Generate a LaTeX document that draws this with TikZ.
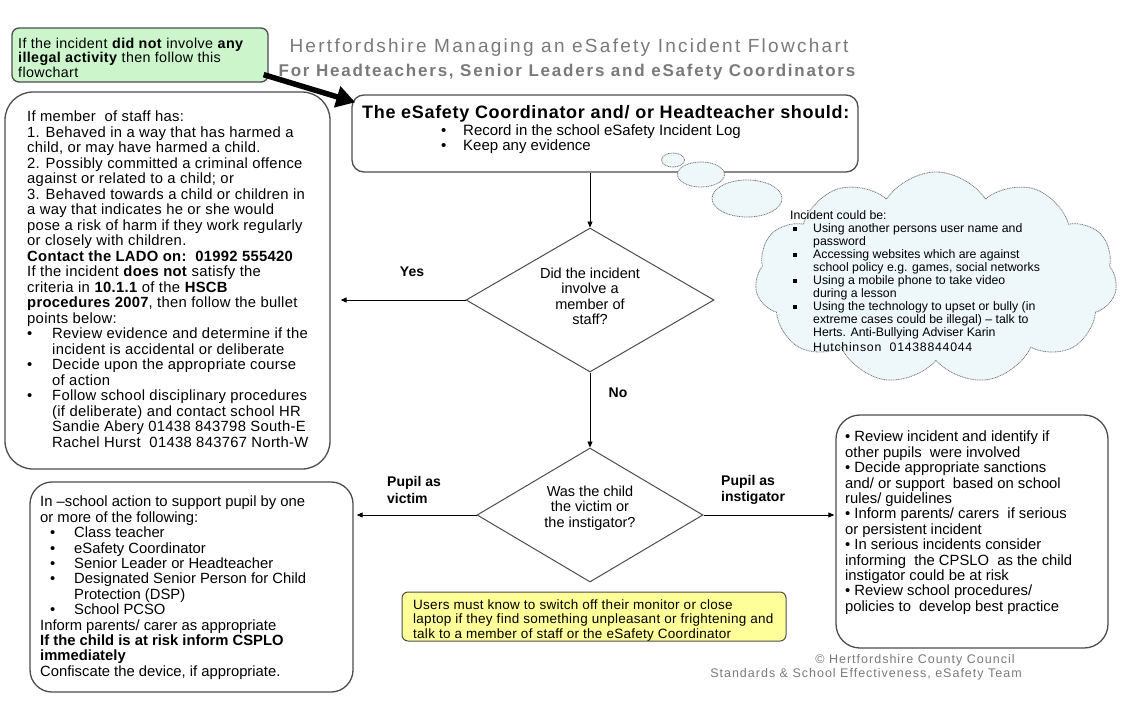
\documentclass[tikz,border=0pt]{standalone}
\usepackage{fontspec}
\setmainfont{Liberation Sans}
\usepackage{graphicx}
\usetikzlibrary{shapes.geometric,shapes.symbols,arrows.meta}
\definecolor{boxline}{HTML}{4D4D4D}
\definecolor{greenfill}{HTML}{CCF5CC}
\definecolor{yellowfill}{HTML}{FFFF99}
\definecolor{cloudfill}{HTML}{EEF8FB}
\definecolor{titlegray}{HTML}{7A7A7A}
\definecolor{cloudline}{HTML}{7A7A7A}
\newcommand\bulA[1]{\makebox[#1][l]{\textbullet}}
\newcommand\sqbul{\makebox[23pt][l]{\hspace{3pt}\rule[1.5pt]{3.5pt}{3.5pt}}}
\begin{document}
\begin{tikzpicture}[x=1pt,y=-1pt,
  box/.style={draw=boxline, line width=1.3pt, fill=white, rounded corners=#1, inner sep=0pt},
  box/.default=12pt,
  body/.style={inner sep=0pt, anchor=north west, align=left, font=\fontsize{14.8}{15.5}\selectfont},
  cloudtxt/.style={inner sep=0pt, anchor=north west, align=left, font=\fontsize{12.3}{13}\selectfont},
  question/.style={diamond, draw=boxline, line width=1pt, fill=white, inner sep=0pt},
  qtext/.style={inner sep=0pt, align=center, font=\fontsize{14.5}{15.5}\selectfont},
  lbl/.style={inner sep=0pt, align=left, font=\fontsize{14}{16.5}\selectfont\bfseries},
  arr/.style={draw=black, line width=0.9pt, -{Triangle[length=6pt,width=5pt]}},
  bubble/.style={ellipse, draw=cloudline, fill=cloudfill, line width=0.8pt, dash pattern=on 1pt off 0.7pt, inner sep=0pt}
]
\useasboundingbox (0,0) rectangle (1121,715);
\fill[white] (0,0) rectangle (1121,715);

% title
\node[inner sep=0pt, text=titlegray, font=\fontsize{19}{20}\selectfont\addfontfeatures{LetterSpace=12}] (title1) at (569,48) {Hertfordshire Managing an eSafety Incident Flowchart};
\node[inner sep=0pt, text=titlegray, font=\fontsize{17}{20}\selectfont\bfseries\addfontfeatures{LetterSpace=10.5}] (title2) at (567,72) {For Headteachers, Senior Leaders and eSafety Coordinators};

% green box
\node[box=7pt, fill=greenfill, minimum width=256pt, minimum height=54pt] (greenbox) at (140,55) {};
\node[inner sep=0pt, anchor=north west, align=left, font=\fontsize{14.3}{14.5}\selectfont\addfontfeatures{LetterSpace=2.5}] (greentext) at (18,37.5)
 {If the incident \textbf{did not} involve \textbf{any}\\
  \textbf{illegal activity} then follow this\\
  flowchart};

% top box
\node[box=12pt, minimum width=506pt, minimum height=77pt] (topbox) at (605,133.5) {};
\node[inner sep=0pt, anchor=north west, font=\fontsize{18}{20}\selectfont\bfseries\addfontfeatures{LetterSpace=3.8}] (toptitle) at (362,105.5)
 {The eSafety Coordinator and/ or Headteacher should:};
\node[body, font=\fontsize{15}{15}\selectfont] (toplist) at (441,124)
 {\bulA{22pt}Record in the school eSafety Incident Log\\
  \bulA{22pt}Keep any evidence};

% thick arrow from green box
\draw[line width=5.5pt, -{Triangle[length=19pt,width=21pt]}]
  ([xshift=-5pt,yshift=8pt]greenbox.south east) -- ([xshift=4pt,yshift=-8pt]topbox.north west);

% staff box
\node[box=28pt, minimum width=325pt, minimum height=377pt] (staffbox) at (167.5,280.5) {};
\node[body, font=\fontsize{14.8}{15.5}\selectfont\addfontfeatures{LetterSpace=2}] (stafftext) at (27,111)
 {If member\ \ of staff has:\\
  1. Behaved in a way that has harmed a\\
  child, or may have harmed a child.\\
  2. Possibly committed a criminal offence\\
  against or related to a child; or\\
  3. Behaved towards a child or children in\\
  a way that indicates he or she would\\
  pose a risk of harm if they work regularly\\
  or closely with children.\\
  \textbf{Contact the LADO on:\ \ 01992 555420}\\
  If the incident \textbf{does not} satisfy the\\
  criteria in \textbf{10.1.1} of the \textbf{HSCB}\\
  \textbf{procedures 2007}, then follow the bullet\\
  points below:\\
  \bulA{25pt}Review evidence and determine if the\\
  \hspace*{25pt}incident is accidental or deliberate\\
  \bulA{25pt}Decide upon the appropriate course\\
  \hspace*{25pt}of action\\
  \bulA{25pt}Follow school disciplinary procedures\\
  \hspace*{25pt}(if deliberate) and contact school HR\\
  \hspace*{25pt}Sandie Abery 01438 843798 South-E\\
  \hspace*{25pt}Rachel Hurst\ \ 01438 843767 North-W};

% diamonds
\node[question, minimum width=248pt, minimum height=144pt] (q1) at (590,300) {};
\node[qtext] (q1text) at (590,296.5) {Did the incident\\involve a\\member of\\staff?};
\node[question, minimum width=226pt, minimum height=134pt] (q2) at (590,515) {};
\node[qtext] (q2text) at (590,508) {Was the child\\the victim or\\the instigator?};

% thought bubbles and cloud
\node[bubble, minimum width=23pt, minimum height=14pt] (b1) at (673,160) {};
\node[bubble, minimum width=47pt, minimum height=25pt] (b2) at (701,174.5) {};
\node[bubble, minimum width=70pt, minimum height=37pt] (b3) at (747,198.5) {};
\node[cloud, cloud puffs=11, cloud puff arc=115, aspect=1.7, draw=cloudline, fill=cloudfill, line width=0.8pt, dash pattern=on 1pt off 0.7pt, minimum width=362pt, minimum height=212pt, inner sep=0pt] (cloud) at (936,278) {};
\node[cloudtxt] (cloudtext) at (790,210)
 {Incident could be:\\
  \sqbul Using another persons user name and\\
  \hspace*{23pt}password\\
  \sqbul Accessing websites which are against\\
  \hspace*{23pt}school policy e.g. games, social networks\\
  \sqbul Using a mobile phone to take video\\
  \hspace*{23pt}during a lesson\\
  \sqbul Using the technology to upset or bully (in\\
  \hspace*{23pt}extreme cases could be illegal) -- talk to\\
  \hspace*{23pt}Herts. Anti-Bullying Adviser Karin\\[2pt]
  \hspace*{23pt}{\addfontfeatures{LetterSpace=6}Hutchinson\ \ 01438844044}};

% pupil victim box
\node[box=22pt, minimum width=323pt, minimum height=210pt] (pupilbox) at (191.5,587) {};
\node[body, font=\fontsize{14.8}{15.4}\selectfont] (pupiltext) at (40,496)
 {In --school action to support pupil by one\\
  or more of the following:\\
  \hspace*{10pt}\bulA{24pt}Class teacher\\
  \hspace*{10pt}\bulA{24pt}eSafety Coordinator\\
  \hspace*{10pt}\bulA{24pt}Senior Leader or Headteacher\\
  \hspace*{10pt}\bulA{24pt}Designated Senior Person for Child\\
  \hspace*{34pt}Protection (DSP)\\
  \hspace*{10pt}\bulA{24pt}School PCSO\\
  Inform parents/ carer as appropriate\\
  \textbf{If the child is at risk inform CSPLO}\\
  \textbf{immediately}\\
  Confiscate the device, if appropriate.};

% instigator box
\node[box=24pt, minimum width=272pt, minimum height=233pt] (instbox) at (972,531.5) {};
\node[body, font=\fontsize{14.8}{15.4}\selectfont] (insttext) at (845,431)
 {\textbullet\ Review incident and identify if\\
  other pupils\ \ were involved\\
  \textbullet\ Decide appropriate sanctions\\
  and/ or support\ \ based on school\\
  rules/ guidelines\\
  \textbullet\ Inform parents/ carers\ \ if serious\\
  or persistent incident\\
  \textbullet\ In serious incidents consider\\
  informing\ \ the CPSLO\ \ as the child\\
  instigator could be at risk\\
  \textbullet\ Review school procedures/\\
  policies to\ \ develop best practice};

% yellow note
\node[box=6pt, fill=yellowfill, line width=1pt, minimum width=384pt, minimum height=49pt] (yellowbox) at (594,616.5) {};
\node[inner sep=0pt, anchor=north west, align=left, font=\fontsize{13.5}{14.5}\selectfont\addfontfeatures{LetterSpace=2}] (yellowtext) at (413,599.5)
 {Users must know to switch off their monitor or close\\
  laptop if they find something unpleasant or frightening and\\
  talk to a member of staff or the eSafety Coordinator};

% connectors
\draw[arr] (topbox.south -| q1.north) -- (q1.north);
\draw[arr] (q1.west) -- ([xshift=10pt]staffbox.east |- q1.west);
\draw[arr] (q1.south) -- (q2.north);
\draw[arr] (q2.west) -- ([xshift=3pt]pupilbox.east |- q2.west);
\draw[arr] (q2.east) -- ([xshift=-1pt]instbox.west |- q2.east);

% labels
\node[lbl] (yes) at (412,272) {Yes};
\node[lbl] (no) at (618,393) {No};
\node[lbl, anchor=west] (victim) at (387,490) {Pupil as\\victim};
\node[lbl, anchor=west] (instig) at (721,490) {Pupil as\\instigator};

% copyright
\node[inner sep=0pt, text=titlegray, font=\fontsize{12.5}{15}\selectfont\addfontfeatures{LetterSpace=8}] (copy1) at (915,660) {\textcopyright\ Hertfordshire County Council};
\node[inner sep=0pt, text=titlegray, font=\fontsize{12.5}{15}\selectfont\addfontfeatures{LetterSpace=8}] (copy2) at (866,674.5) {Standards \& School Effectiveness, eSafety Team};
\end{tikzpicture}
\end{document}
